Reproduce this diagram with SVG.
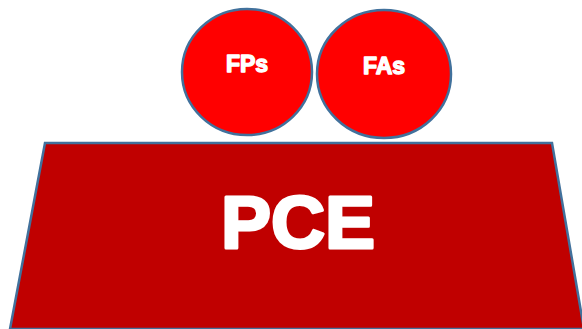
<svg xmlns="http://www.w3.org/2000/svg" width="582" height="329" viewBox="0 0 582 329">
<style>
.shape{stroke:#41719C;stroke-width:2.5}
.lbl{font-family:"Liberation Sans",Arial,sans-serif;font-weight:bold;fill:#fff;text-anchor:middle;stroke:#fff;stroke-linejoin:round}
</style>
<rect width="582" height="329" fill="#fff"/>
<g id="pce">
<polygon class="shape" points="45,143 552,143 584,329 10,329" fill="#C00000"/>
<text class="lbl" x="298" y="248" font-size="75" stroke-width="3">PCE</text>
</g>
<g id="fps">
<ellipse class="shape" cx="247" cy="72" rx="65" ry="63" fill="#FF0000"/>
<text class="lbl" x="247" y="72" font-size="23" stroke-width="1.4">FPs</text>
</g>
<g id="fas">
<ellipse class="shape" cx="384" cy="74" rx="67" ry="64" fill="#FF0000"/>
<text class="lbl" x="384" y="74" font-size="23" stroke-width="1.4">FAs</text>
</g>
<g id="connectors"></g>
</svg>
